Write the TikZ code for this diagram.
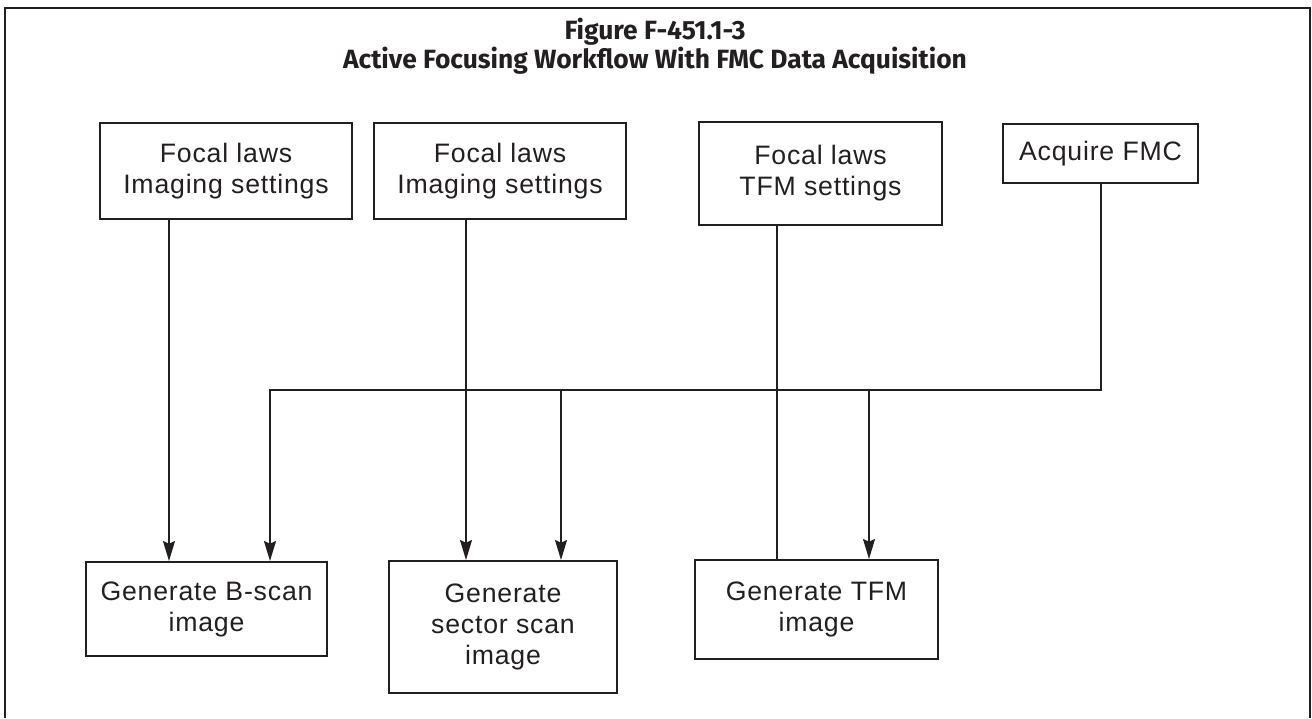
\documentclass[tikz,border=0pt]{standalone}
\usepackage{fontspec}
\newfontfamily\boxfont[LetterSpace=3]{Liberation Sans}
\newfontfamily\titlefont{Fira Sans}
\usetikzlibrary{arrows.meta, positioning}
\definecolor{inkgray}{RGB}{35,31,32}
\tikzset{
    stepbox/.style={rectangle, draw=inkgray, line width=1.5pt, inner sep=0pt, align=center, text=inkgray, font=\boxfont\fontsize{20}{23.3}\selectfont},
    flow/.style={draw=inkgray, line width=1.1pt},
    arrow/.style={flow, -{Stealth[length=15pt, width=9pt, inset=2pt]}},
    heading/.style={align=center, text=inkgray, font=\titlefont\bfseries\fontsize{19.8}{18.5}\selectfont}
}

\begin{document}
\begin{tikzpicture}[x=0.75pt, y=-0.75pt]
        \useasboundingbox (0,0) rectangle (1312,718);
        % Frame
        \draw[inkgray, line width=2.2pt] (5,718) -- (5,8) -- (1310,8) -- (1310,718);
        \node (title) at (655,46) [heading] {Figure F-451.1-3\\Active Focusing Workflow With FMC Data Acquisition};

        % Inputs
        \node (fl1) at (226,171) [stepbox, minimum width=189pt, minimum height=72pt] {Focal laws\\Imaging settings};
        \node (fl2) at (500,171) [stepbox, minimum width=189pt, minimum height=72pt] {Focal laws\\Imaging settings};
        \node (fl3) at (820.5,173.5) [stepbox, minimum width=182.25pt, minimum height=77.25pt] {Focal laws\\TFM settings};
        \node (acq) at (1100.5,153.5) [stepbox, minimum width=146.25pt, minimum height=44.25pt] {Acquire FMC};

        % Outputs
        \node (gb) at (206.5,609) [stepbox, minimum width=180.75pt, minimum height=70.5pt] {Generate B-scan\\image};
        \node (gs) at (503,627) [stepbox, minimum width=171pt, minimum height=99pt] {Generate\\sector scan\\image};
        \node (gt) at (816.5,609.5) [stepbox, minimum width=182.25pt, minimum height=74.25pt] {Generate TFM\\image};

        % Columns
        \coordinate (c1) at (169,0);
        \coordinate (c2) at (466,0);
        \coordinate (c3) at (777,0);
        \coordinate (d1) at (270,390);
        \coordinate (d2) at (561,390);
        \coordinate (d3) at (869,390);

        % Connectors
        \draw[arrow] (c1 |- fl1.south) -- (c1 |- gb.north);
        \draw[arrow] (c2 |- fl2.south) -- (c2 |- gs.north);
        \draw[flow] (c3 |- fl3.south) -- (c3 |- gt.north);
        \draw[arrow, line width=1.5pt] (acq.south) |- (d1) -- (d1 |- gb.north);
        \draw[arrow] (d2) -- (d2 |- gs.north);
        \draw[arrow] (d3) -- (d3 |- gt.north);
\end{tikzpicture}
\end{document}
